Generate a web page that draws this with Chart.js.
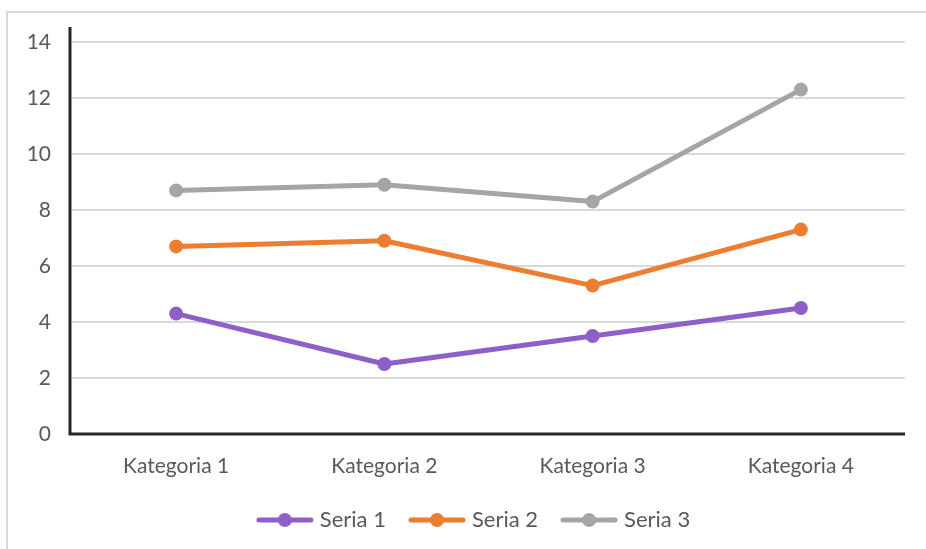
<!DOCTYPE html>
<html>
<head>
<meta charset="utf-8">
<script src="https://cdn.jsdelivr.net/npm/chart.js@4"></script>
<style>
  body { margin: 0; background: #fff; overflow: hidden; }
  #ramka { position: absolute; left: 6px; top: 11px; width: 960px; height: 600px; border: 2px solid #d9d9d9; }
  #wrap { position: absolute; left: 0; top: 0; width: 926px; height: 549px; }
</style>
</head>
<body>
<div id="ramka"></div>
<div id="wrap"><canvas id="wykres"></canvas></div>
<script>
// dane wykresu (wykres liniowy skumulowany)
const kategorie = ["Kategoria 1", "Kategoria 2", "Kategoria 3", "Kategoria 4"];
const seria1 = [4.3, 2.5, 3.5, 4.5];
const seria2 = [2.4, 4.4, 1.8, 2.8];
const seria3 = [2, 2, 3, 5];
const nazwySerii = ["Seria 1", "Seria 2", "Seria 3"];
const kolory = ["#8e5fc9", "#ed7d31", "#a5a5a5"];
const osY = [0, 2, 4, 6, 8, 10, 12, 14];

const FONT = "Lato, 'Liberation Sans', sans-serif";
const SZARY = "#595959";
const ROZMIAR = 21;

// ikonka legendy: linia z kropka
function ikonaLegendy(kolor) {
  const c = document.createElement("canvas");
  c.width = 58; c.height = 16;
  const g = c.getContext("2d");
  g.strokeStyle = kolor;
  g.lineWidth = 5;
  g.lineCap = "round";
  g.beginPath(); g.moveTo(3, 8); g.lineTo(55, 8); g.stroke();
  g.fillStyle = kolor;
  g.beginPath(); g.arc(29, 8, 7, 0, Math.PI * 2); g.fill();
  return c;
}

// osie rysowane recznie (os Y wystaje ponad siatke)
const osie = {
  id: "osie",
  afterLayout(chart) {
    // legenda przesunieta jak w oryginale
    const l = chart.legend;
    l.left += 23; l.right += 23;
    l.top -= 4; l.bottom -= 4;
  },
  afterDatasetsDraw(chart) {
    const { ctx, chartArea } = chart;
    ctx.save();
    ctx.strokeStyle = "#262626";
    ctx.lineWidth = 3;
    ctx.beginPath();
    ctx.moveTo(chartArea.left - 2, chartArea.top - 15);
    ctx.lineTo(chartArea.left - 2, chartArea.bottom);
    ctx.lineTo(chartArea.right, chartArea.bottom);
    ctx.stroke();
    ctx.restore();
  }
};

const zestawy = [seria1, seria2, seria3].map((dane, i) => ({
  label: nazwySerii[i],
  data: dane,
  borderColor: kolory[i],
  backgroundColor: kolory[i],
  borderWidth: 5,
  borderCapStyle: "round",
  borderJoinStyle: "round",
  pointRadius: 7,
  pointHoverRadius: 7,
  pointBorderWidth: 0,
  fill: false,
  tension: 0
}));

new Chart(document.getElementById("wykres"), {
  type: "line",
  data: { labels: kategorie, datasets: zestawy },
  plugins: [osie],
  options: {
    responsive: true,
    maintainAspectRatio: false,
    animation: false,
    layout: { padding: { top: 42, right: 21, left: 0, bottom: 4 } },
    scales: {
      x: {
        offset: true,
        grid: { display: false, drawTicks: false, offset: true },
        border: { display: false },
        ticks: { color: SZARY, font: { family: FONT, size: ROZMIAR }, padding: 20 },
        afterFit(s) { s.height = 52; }
      },
      y: {
        stacked: true,
        min: 0,
        max: 14,
        grid: { color: "#d9d9d9", lineWidth: 2, drawTicks: false },
        border: { display: false },
        afterBuildTicks(s) { s.ticks = osY.map(v => ({ value: v })); },
        ticks: { color: SZARY, font: { family: FONT, size: ROZMIAR }, padding: 21 },
        afterFit(s) { s.width = 72; }
      }
    },
    plugins: {
      tooltip: { enabled: false },
      legend: {
        position: "bottom",
        labels: {
          color: SZARY,
          font: { family: FONT, size: 22 },
          usePointStyle: true,
          pointStyleWidth: 48,
          padding: 27,
          generateLabels(chart) {
            return chart.data.datasets.map((d, i) => ({
              text: d.label,
              fillStyle: d.borderColor,
              strokeStyle: d.borderColor,
              lineWidth: 0,
              pointStyle: ikonaLegendy(d.borderColor),
              fontColor: SZARY,
              datasetIndex: i,
              hidden: false
            }));
          }
        }
      }
    }
  }
});
</script>
</body>
</html>
